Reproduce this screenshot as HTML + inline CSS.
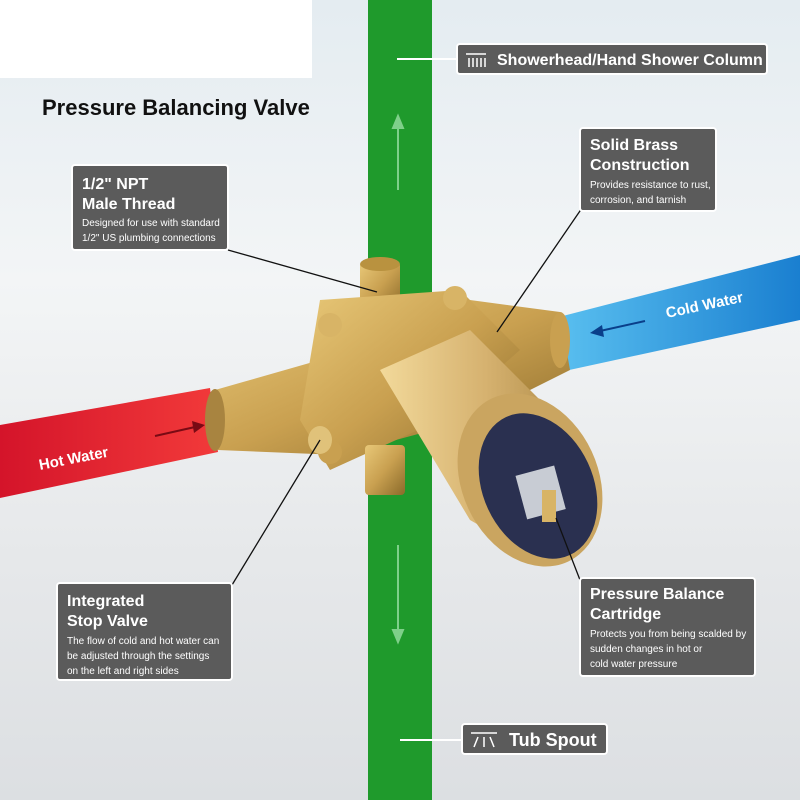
<!DOCTYPE html>
<html><head><meta charset="utf-8"><style>
html,body{margin:0;padding:0}
body{width:800px;height:800px;overflow:hidden;font-family:"Liberation Sans",sans-serif}
</style></head><body>
<svg width="800" height="800" viewBox="0 0 800 800" xmlns="http://www.w3.org/2000/svg" font-family="Liberation Sans, sans-serif">
<defs>
<linearGradient id="bg" x1="0" y1="0" x2="0" y2="1">
<stop offset="0" stop-color="#e4ecf1"/><stop offset="0.35" stop-color="#f3f5f6"/><stop offset="0.7" stop-color="#e6e8ea"/><stop offset="1" stop-color="#dcdfe2"/></linearGradient>
<linearGradient id="gold" x1="0" y1="0" x2="1" y2="1">
<stop offset="0" stop-color="#e8c878"/><stop offset="0.5" stop-color="#c9a050"/><stop offset="1" stop-color="#8a6a2a"/></linearGradient>
<linearGradient id="cyl" x1="0" y1="0" x2="1" y2="0">
<stop offset="0" stop-color="#f2d99a"/><stop offset="0.5" stop-color="#d6b270"/><stop offset="1" stop-color="#a88440"/></linearGradient>
<linearGradient id="red" x1="0" y1="0" x2="1" y2="0"><stop offset="0" stop-color="#d4142a"/><stop offset="1" stop-color="#f23a3a"/></linearGradient>
<linearGradient id="blue" x1="0" y1="0" x2="1" y2="0"><stop offset="0" stop-color="#5ac0f0"/><stop offset="1" stop-color="#1a7fd0"/></linearGradient>
</defs>
<rect width="800" height="800" fill="url(#bg)"/>
<rect x="0" y="0" width="312" height="78" fill="#fff"/>
<rect x="368" y="0" width="64" height="800" fill="#1f9a2c"/>
<!-- up/down arrows -->
<g stroke="#7fd08a" stroke-width="2" fill="#7fd08a">
<line x1="398" y1="190" x2="398" y2="125"/><polygon points="393,128 398,116 403,128"/>
<line x1="398" y1="545" x2="398" y2="632"/><polygon points="393,630 398,642 403,630"/>
</g>
<!-- hot -->
<polygon points="0,425 210,388 218,452 0,498" fill="url(#red)"/>
<text x="40" y="470" fill="#fff" font-size="15" font-weight="bold" transform="rotate(-11 40 470)">Hot Water</text>
<line x1="155" y1="436" x2="195" y2="427" stroke="#7a0a14" stroke-width="2"/>
<polygon points="192,421 205,425 194,433" fill="#7a0a14"/>
<!-- cold -->
<polygon points="555,318 800,255 800,320 560,372" fill="url(#blue)"/>
<text x="667" y="318" fill="#fff" font-size="15" font-weight="bold" transform="rotate(-12 667 318)">Cold Water</text>
<line x1="645" y1="321" x2="600" y2="331" stroke="#0a3f8a" stroke-width="2"/>
<polygon points="602,325 590,333 604,337" fill="#0a3f8a"/>
<!-- valve -->
<g>
<rect x="360" y="262" width="40" height="50" fill="url(#gold)" rx="4"/>
<ellipse cx="380" cy="264" rx="20" ry="7" fill="#b9923f"/>
<polygon points="215,390 320,360 470,300 560,312 570,370 470,420 340,455 218,450" fill="url(#gold)"/>
<ellipse cx="215" cy="420" rx="10" ry="31" fill="#a88440"/>
<ellipse cx="560" cy="340" rx="10" ry="28" fill="#c9a050"/>
<polygon points="320,300 460,290 520,350 440,420 330,470 300,420" fill="url(#gold)"/>
<circle cx="330" cy="325" r="12" fill="#d8b466"/><circle cx="455" cy="298" r="12" fill="#d8b466"/>
<circle cx="330" cy="452" r="12" fill="#c9a050"/>
<rect x="365" y="445" width="40" height="50" fill="url(#gold)" rx="4"/>
<polygon points="380,370 470,330 560,420 590,480 540,560 470,520" fill="url(#cyl)"/>
<ellipse cx="530" cy="480" rx="68" ry="90" transform="rotate(-25 530 480)" fill="#caa560"/>
<ellipse cx="538" cy="486" rx="55" ry="76" transform="rotate(-25 538 486)" fill="#2a3050"/>
<rect x="520" y="470" width="40" height="45" fill="#c8ccd4" transform="rotate(-15 540 490)"/>
<rect x="542" y="490" width="14" height="32" fill="#d8b466"/>
<ellipse cx="320" cy="440" rx="12" ry="14" fill="#e0c27a"/>
</g>
<!-- leader lines -->
<g stroke="#111" stroke-width="1.3">
<line x1="228" y1="250" x2="377" y2="292"/>
<line x1="582" y1="208" x2="497" y2="332"/>
<line x1="232" y1="585" x2="320" y2="440"/>
<line x1="580" y1="580" x2="556" y2="518"/>
</g>
<line x1="457" y1="59" x2="397" y2="59" stroke="#fff" stroke-width="2"/>
<line x1="462" y1="740" x2="400" y2="740" stroke="#fff" stroke-width="2"/>
<!-- title -->
<text x="42" y="115" font-size="22" font-weight="bold" fill="#111">Pressure Balancing Valve</text>
<!-- boxes -->
<g stroke="#fff" stroke-width="2" fill="#5b5b5b">
<rect x="457" y="44" width="310" height="30" rx="3"/>
<rect x="72" y="165" width="156" height="85" rx="3"/>
<rect x="580" y="128" width="136" height="83" rx="3"/>
<rect x="57" y="583" width="175" height="97" rx="3"/>
<rect x="580" y="578" width="175" height="98" rx="3"/>
<rect x="462" y="724" width="145" height="30" rx="3"/>
</g>
<g fill="#fff">
<g stroke="#fff" stroke-width="1.5"><line x1="466" y1="54" x2="486" y2="54"/><line x1="469" y1="58" x2="469" y2="67"/><line x1="473" y1="58" x2="473" y2="67"/><line x1="477" y1="58" x2="477" y2="67"/><line x1="481" y1="58" x2="481" y2="67"/><line x1="485" y1="58" x2="485" y2="67"/>
<line x1="471" y1="733" x2="497" y2="733"/><line x1="478" y1="737" x2="474" y2="747"/><line x1="484" y1="737" x2="484" y2="747"/><line x1="490" y1="737" x2="494" y2="747"/></g>
<text x="497" y="65" font-size="16" font-weight="bold">Showerhead/Hand Shower Column</text>
<text x="509" y="746" font-size="18" font-weight="bold">Tub Spout</text>
<text x="82" y="189" font-size="16" font-weight="bold">1/2" NPT</text>
<text x="82" y="209" font-size="16" font-weight="bold">Male Thread</text>
<text x="82" y="226" font-size="10">Designed for use with standard</text>
<text x="82" y="241" font-size="10">1/2" US plumbing connections</text>
<text x="590" y="150" font-size="16" font-weight="bold">Solid Brass</text>
<text x="590" y="170" font-size="16" font-weight="bold">Construction</text>
<text x="590" y="188" font-size="10">Provides resistance to rust,</text>
<text x="590" y="203" font-size="10">corrosion, and tarnish</text>
<text x="67" y="606" font-size="16" font-weight="bold">Integrated</text>
<text x="67" y="626" font-size="16" font-weight="bold">Stop Valve</text>
<text x="67" y="644" font-size="10">The flow of cold and hot water can</text>
<text x="67" y="659" font-size="10">be adjusted through the settings</text>
<text x="67" y="674" font-size="10">on the left and right sides</text>
<text x="590" y="599" font-size="16" font-weight="bold">Pressure Balance</text>
<text x="590" y="619" font-size="16" font-weight="bold">Cartridge</text>
<text x="590" y="637" font-size="10">Protects you from being scalded by</text>
<text x="590" y="652" font-size="10">sudden changes in hot or</text>
<text x="590" y="667" font-size="10">cold water pressure</text>
</g>
</svg>
</body></html>
